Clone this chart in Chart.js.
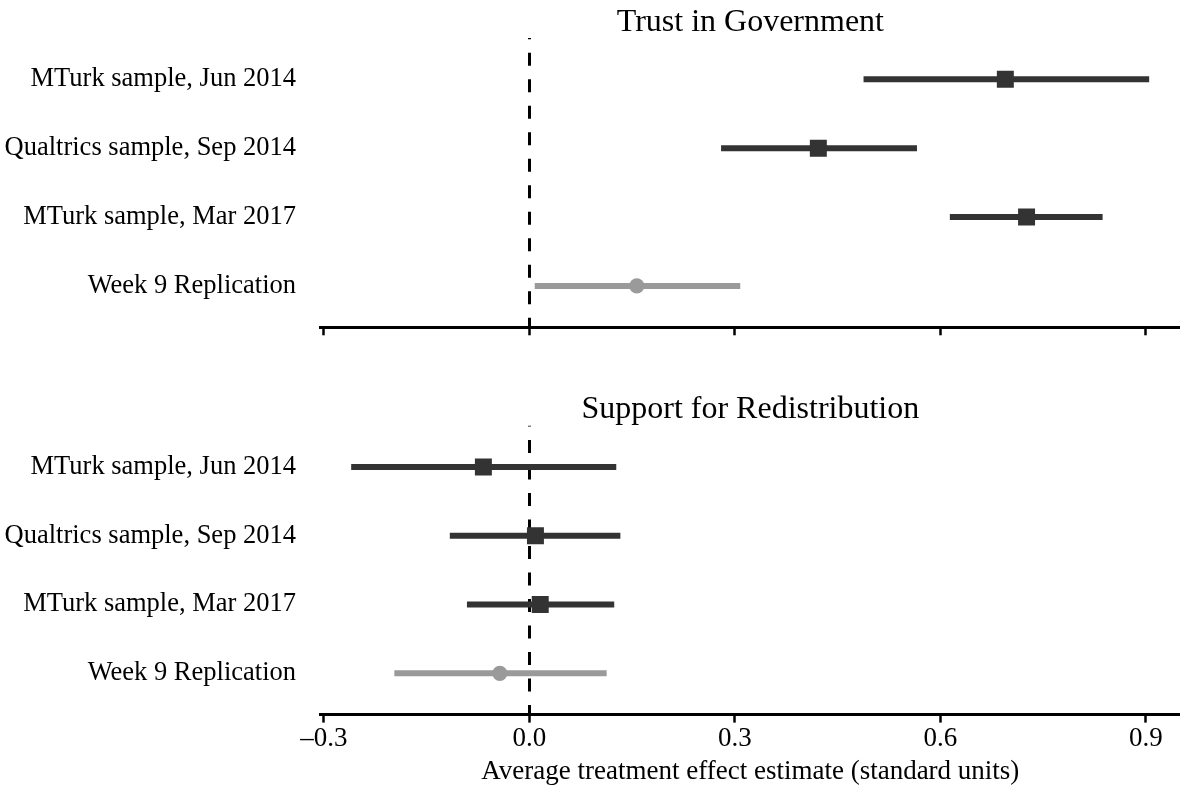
<!DOCTYPE html>
<html>
<head>
<meta charset="utf-8">
<title>Treatment effect estimates</title>
<script src="https://cdn.jsdelivr.net/npm/chart.js@4/dist/chart.umd.min.js"></script>
<style>
  html, body { margin: 0; padding: 0; background: #ffffff; }
  #wrap { position: relative; width: 1180px; height: 787px; overflow: hidden; }
  canvas { position: absolute; left: 0; }
  #top { top: 0; }
  #bottom { top: 380px; }
</style>
</head>
<body>
<div id="wrap">
  <canvas id="top" width="1180" height="380"></canvas>
  <canvas id="bottom" width="1180" height="407"></canvas>
</div>
<script>
// Study samples, listed top to bottom in each panel
const rowLabels = [
  'MTurk sample, Jun 2014',
  'Qualtrics sample, Sep 2014',
  'MTurk sample, Mar 2017',
  'Week 9 Replication'
];
// Which rows are the replication (drawn grey with round markers)
const isReplication = [false, false, false, true];

// Trust in Government: estimate and 95% interval
const trustEst = [0.695, 0.422, 0.726, 0.157];
const trustLo  = [0.488, 0.280, 0.614, 0.008];
const trustHi  = [0.905, 0.566, 0.837, 0.308];

// Support for Redistribution: estimate and 95% interval
const redistEst = [-0.067, 0.009, 0.016, -0.043];
const redistLo  = [-0.260, -0.116, -0.091, -0.197];
const redistHi  = [0.127, 0.133, 0.124, 0.113];

// Horizontal axis ticks
const tickValues = [-0.3, 0.0, 0.3, 0.6, 0.9];
const tickLabels = ['\u20130.3', '0.0', '0.3', '0.6', '0.9'];

const FONT = "'Liberation Serif', 'Times New Roman', Times, serif";
const DARK = '#333333';
const GREY = '#9a9a9a';

// Dashed reference line at zero plus the panel heading
const refLinePlugin = {
  id: 'refLine',
  beforeDatasetsDraw(chart, args, opts) {
    const { ctx, chartArea } = chart;
    const x = Math.round(chart.scales.x.getPixelForValue(0)) + 0.5;
    ctx.save();
    ctx.strokeStyle = '#000000';
    ctx.lineWidth = 3;
    ctx.setLineDash([13, 13.5]);
    ctx.lineDashOffset = 3.4;
    ctx.beginPath();
    ctx.moveTo(x, chartArea.bottom);
    ctx.lineTo(x, chartArea.top);
    ctx.stroke();
    ctx.restore();
  },
  afterDraw(chart, args, opts) {
    const { ctx, chartArea } = chart;
    ctx.save();
    ctx.fillStyle = '#000000';
    ctx.font = '32px ' + FONT;
    ctx.textAlign = 'center';
    ctx.textBaseline = 'alphabetic';
    ctx.fillText(opts.text, (chartArea.left + chartArea.right) / 2, chartArea.top - 7.4);
    ctx.restore();
  }
};

function buildPanel(canvasId, heading, est, lo, hi, showTickLabels, padTop, axisHeight) {
  const datasets = [];
  // Confidence interval segments
  for (let i = 0; i < est.length; i++) {
    datasets.push({
      type: 'line',
      data: [{ x: lo[i], y: i + 1 }, { x: hi[i], y: i + 1 }],
      borderColor: isReplication[i] ? GREY : DARK,
      borderWidth: 6,
      borderCapStyle: 'butt',
      pointRadius: 0,
      fill: false,
      order: 2
    });
  }
  // Point estimates
  datasets.push({
    type: 'scatter',
    data: est.map((v, i) => ({ x: v, y: i + 1 })),
    pointStyle: est.map((v, i) => isReplication[i] ? 'circle' : 'rect'),
    pointRadius: est.map((v, i) => isReplication[i] ? 7.6 : 12),
    backgroundColor: est.map((v, i) => isReplication[i] ? GREY : DARK),
    borderWidth: 0,
    order: 1
  });

  return new Chart(document.getElementById(canvasId), {
    data: { datasets },
    options: {
      responsive: false,
      animation: false,
      events: [],
      layout: {
        autoPadding: false,
        padding: { top: padTop, left: 0, right: 0, bottom: 0 }
      },
      plugins: {
        legend: { display: false },
        tooltip: { enabled: false },
        refLine: { text: heading }
      },
      scales: {
        x: {
          type: 'linear',
          position: 'bottom',
          min: -0.3045,
          max: 0.95,
          afterBuildTicks(scale) {
            scale.ticks = tickValues.map(v => ({ value: v }));
          },
          afterFit(scale) {
            scale.height = axisHeight;
            scale.paddingLeft = 0;
            scale.paddingRight = 0;
          },
          border: { display: true, color: '#000000', width: 3 },
          grid: {
            drawOnChartArea: false,
            drawTicks: true,
            tickLength: 8,
            tickColor: '#000000',
            tickWidth: 2.5
          },
          ticks: {
            display: showTickLabels,
            autoSkip: false,
            maxRotation: 0,
            color: '#000000',
            padding: 0,
            font: { family: FONT, size: 27 },
            callback(value) {
              const k = tickValues.findIndex(t => Math.abs(t - value) < 1e-9);
              return k >= 0 ? tickLabels[k] : '';
            }
          },
          title: {
            display: showTickLabels,
            text: 'Average treatment effect estimate (standard units)',
            color: '#000000',
            font: { family: FONT, size: 27 },
            padding: { top: 0, bottom: -1 }
          }
        },
        y: {
          type: 'linear',
          reverse: true,
          min: 0.4,
          max: 4.6,
          afterBuildTicks(scale) {
            scale.ticks = rowLabels.map((t, i) => ({ value: i + 1 }));
          },
          afterFit(scale) {
            scale.width = 320.7;
            scale.paddingTop = 0;
            scale.paddingBottom = 0;
          },
          border: { display: false },
          grid: { display: false, drawTicks: false },
          ticks: {
            autoSkip: false,
            color: '#000000',
            padding: 24.7,
            font: { family: FONT, size: 26.5 },
            callback(value) {
              return rowLabels[Math.round(value) - 1] || '';
            }
          }
        }
      }
    },
    plugins: [refLinePlugin]
  });
}

buildPanel('top', 'Trust in Government', trustEst, trustLo, trustHi, false, 38, 380 - 327.3);
buildPanel('bottom', 'Support for Redistribution', redistEst, redistLo, redistHi, true, 45.7, 407 - 334.6);
</script>
</body>
</html>
